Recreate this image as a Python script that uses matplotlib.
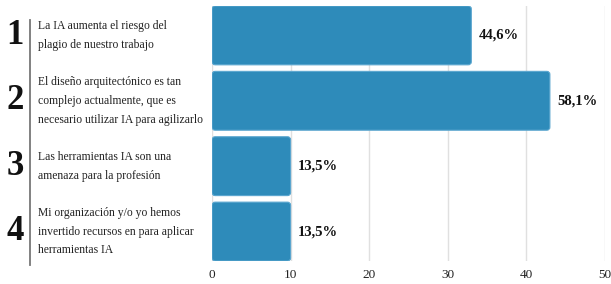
import matplotlib.pyplot as plt
from matplotlib.patches import FancyBboxPatch

# datos
numeros = ["1", "2", "3", "4"]
afirmaciones = [
    "La IA aumenta el riesgo del\nplagio de nuestro trabajo",
    "El diseño arquitectónico es tan\ncomplejo actualmente, que es\nnecesario utilizar IA para agilizarlo",
    "Las herramientas IA son una\namenaza para la profesión",
    "Mi organización y/o yo hemos\ninvertido recursos en para aplicar\nherramientas IA",
]
respuestas = [33, 43, 10, 10]
porcentajes = ["44,6%", "58,1%", "13,5%", "13,5%"]
ticks_x = [0, 10, 20, 30, 40, 50]

color_barra = "#2e8bba"
fuente = "Liberation Serif"

fig = plt.figure(figsize=(6.11, 2.84), dpi=100)
ax = fig.add_axes([0.347, 0.081, 0.643, 0.898])

pos = list(range(len(respuestas)))
barras = ax.barh(pos, respuestas, height=0.9, color=color_barra)

# barras con esquinas redondeadas
for b in barras:
    x, y = b.get_x(), b.get_y()
    w, h = b.get_width(), b.get_height()
    b.set_visible(False)
    p = FancyBboxPatch((x, y), w, h,
                       boxstyle="round,pad=0,rounding_size=0.4",
                       mutation_aspect=0.115,
                       facecolor=color_barra, edgecolor="#5aa6cf",
                       linewidth=0.8, zorder=3)
    ax.add_patch(p)

for i, (v, txt) in enumerate(zip(respuestas, porcentajes)):
    ax.text(v + 0.9, i, txt, va="center", ha="left", fontsize=10.5,
            fontweight="bold", family=fuente, color="#111111")

ax.set_xlim(0, 50)
ax.set_ylim(3.45, -0.45)
ax.set_xticks(ticks_x)
ax.set_xticklabels([str(t) for t in ticks_x], family=fuente, fontsize=9.5,
                   color="#222222")
ax.set_yticks([])
ax.tick_params(axis="x", length=0, pad=6)
ax.grid(axis="x", color="#e0e0e0", linewidth=1)
ax.set_axisbelow(True)
for s in ax.spines.values():
    s.set_visible(False)

# etiquetas de la izquierda
for i, (n, txt) in enumerate(zip(numeros, afirmaciones)):
    yc = ax.transData.transform((0, i))[1]
    yf = fig.transFigure.inverted().transform((0, yc))[1]
    fig.text(0.025, yf, n, fontsize=25, fontweight="bold", family=fuente,
             va="center", ha="center", color="#111111")
    fig.text(0.062, yf, txt, fontsize=8.4, family=fuente, va="center",
             ha="left", linespacing=1.75, color="#222222")

fig.add_artist(plt.Line2D([0.049, 0.049], [1 - 20 / 284, 1 - 265 / 284],
                          transform=fig.transFigure, color="#777777",
                          linewidth=1.3))

fig.savefig("out.png", dpi=100)
